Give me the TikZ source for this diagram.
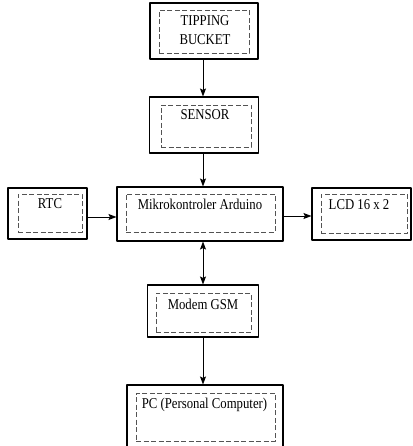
\documentclass[tikz,border=0pt]{standalone}
\usepackage{fontspec}
\setmainfont{Liberation Serif}[FakeStretch=0.85]
\usetikzlibrary{arrows.meta}
\begin{document}
\begin{tikzpicture}[x=1pt,y=-1pt,line join=round,>={Stealth[length=8pt,width=6pt,inset=1.5pt]},font=\fontsize{15}{19}\selectfont,
	outer/.style={draw,line width=1.1pt,inner sep=0pt},
	inner/.style={draw=gray!65!black,dashed,dash pattern=on 5pt off 2.5pt,line width=0.6pt,inner sep=0pt},
	txt/.style={inner sep=0pt,align=center},
	conn/.style={->,line width=0.9pt}]
	\useasboundingbox (0,0) rectangle (412,446);
	% blocks
	\node[outer,minimum width=108,minimum height=56] (tip) at (204,31) {};
	\node[inner,minimum width=90,minimum height=43] (tipI) at (204,31.5) {};
	\node[txt] (tipT) at (205,30) {TIPPING\\BUCKET};
	\node[outer,minimum width=109,minimum height=56] (sensor) at (204,125) {};
	\node[inner,minimum width=90,minimum height=42] (sensorI) at (206,126) {};
	\node[txt] (sensorT) at (205,115) {SENSOR};
	\node[outer,minimum width=79,minimum height=51] (rtc) at (47.5,213.5) {};
	\node[inner,minimum width=64,minimum height=38] (rtcI) at (50,213) {};
	\node[txt] (rtcT) at (50,204) {RTC};
	\node[outer,minimum width=166,minimum height=54] (ard) at (200,214) {};
	\node[inner,minimum width=149,minimum height=38] (ardI) at (200.5,213) {};
	\node[txt] (ardT) at (200,204) {Mikrokontroler Arduino};
	\node[outer,minimum width=99,minimum height=52] (lcd) at (361.5,214) {};
	\node[inner,minimum width=86,minimum height=39] (lcdI) at (364,213.5) {};
	\node[txt] (lcdT) at (359,205) {LCD 16 x 2};
	\node[outer,minimum width=111,minimum height=52] (gsm) at (203,311) {};
	\node[inner,minimum width=95,minimum height=39] (gsmI) at (203.5,312.5) {};
	\node[txt] (gsmT) at (203,304) {Modem GSM};
	\node[outer,minimum width=156,minimum height=70] (pc) at (205,420) {};
	\node[inner,minimum width=139,minimum height=48] (pcI) at (205.5,417) {};
	\node[txt] (pcT) at (204.5,405) {PC (Personal Computer)};
	% connectors
	\draw[conn] (tip.south -| 203,0) -- (sensor.north -| 203,0);
	\draw[conn] (sensor.south -| 203,0) -- (ard.north -| 203,0);
	\draw[conn,<->] (ard.south -| 203,0) -- (gsm.north -| 203,0);
	\draw[conn] (gsm.south -| 203,0) -- (pc.north -| 203,0);
	\draw[conn] (rtc.east |- 0,217) -- (ard.west |- 0,217);
	\draw[conn] (ard.east |- 0,216) -- (lcd.west |- 0,216);
\end{tikzpicture}
\end{document}
